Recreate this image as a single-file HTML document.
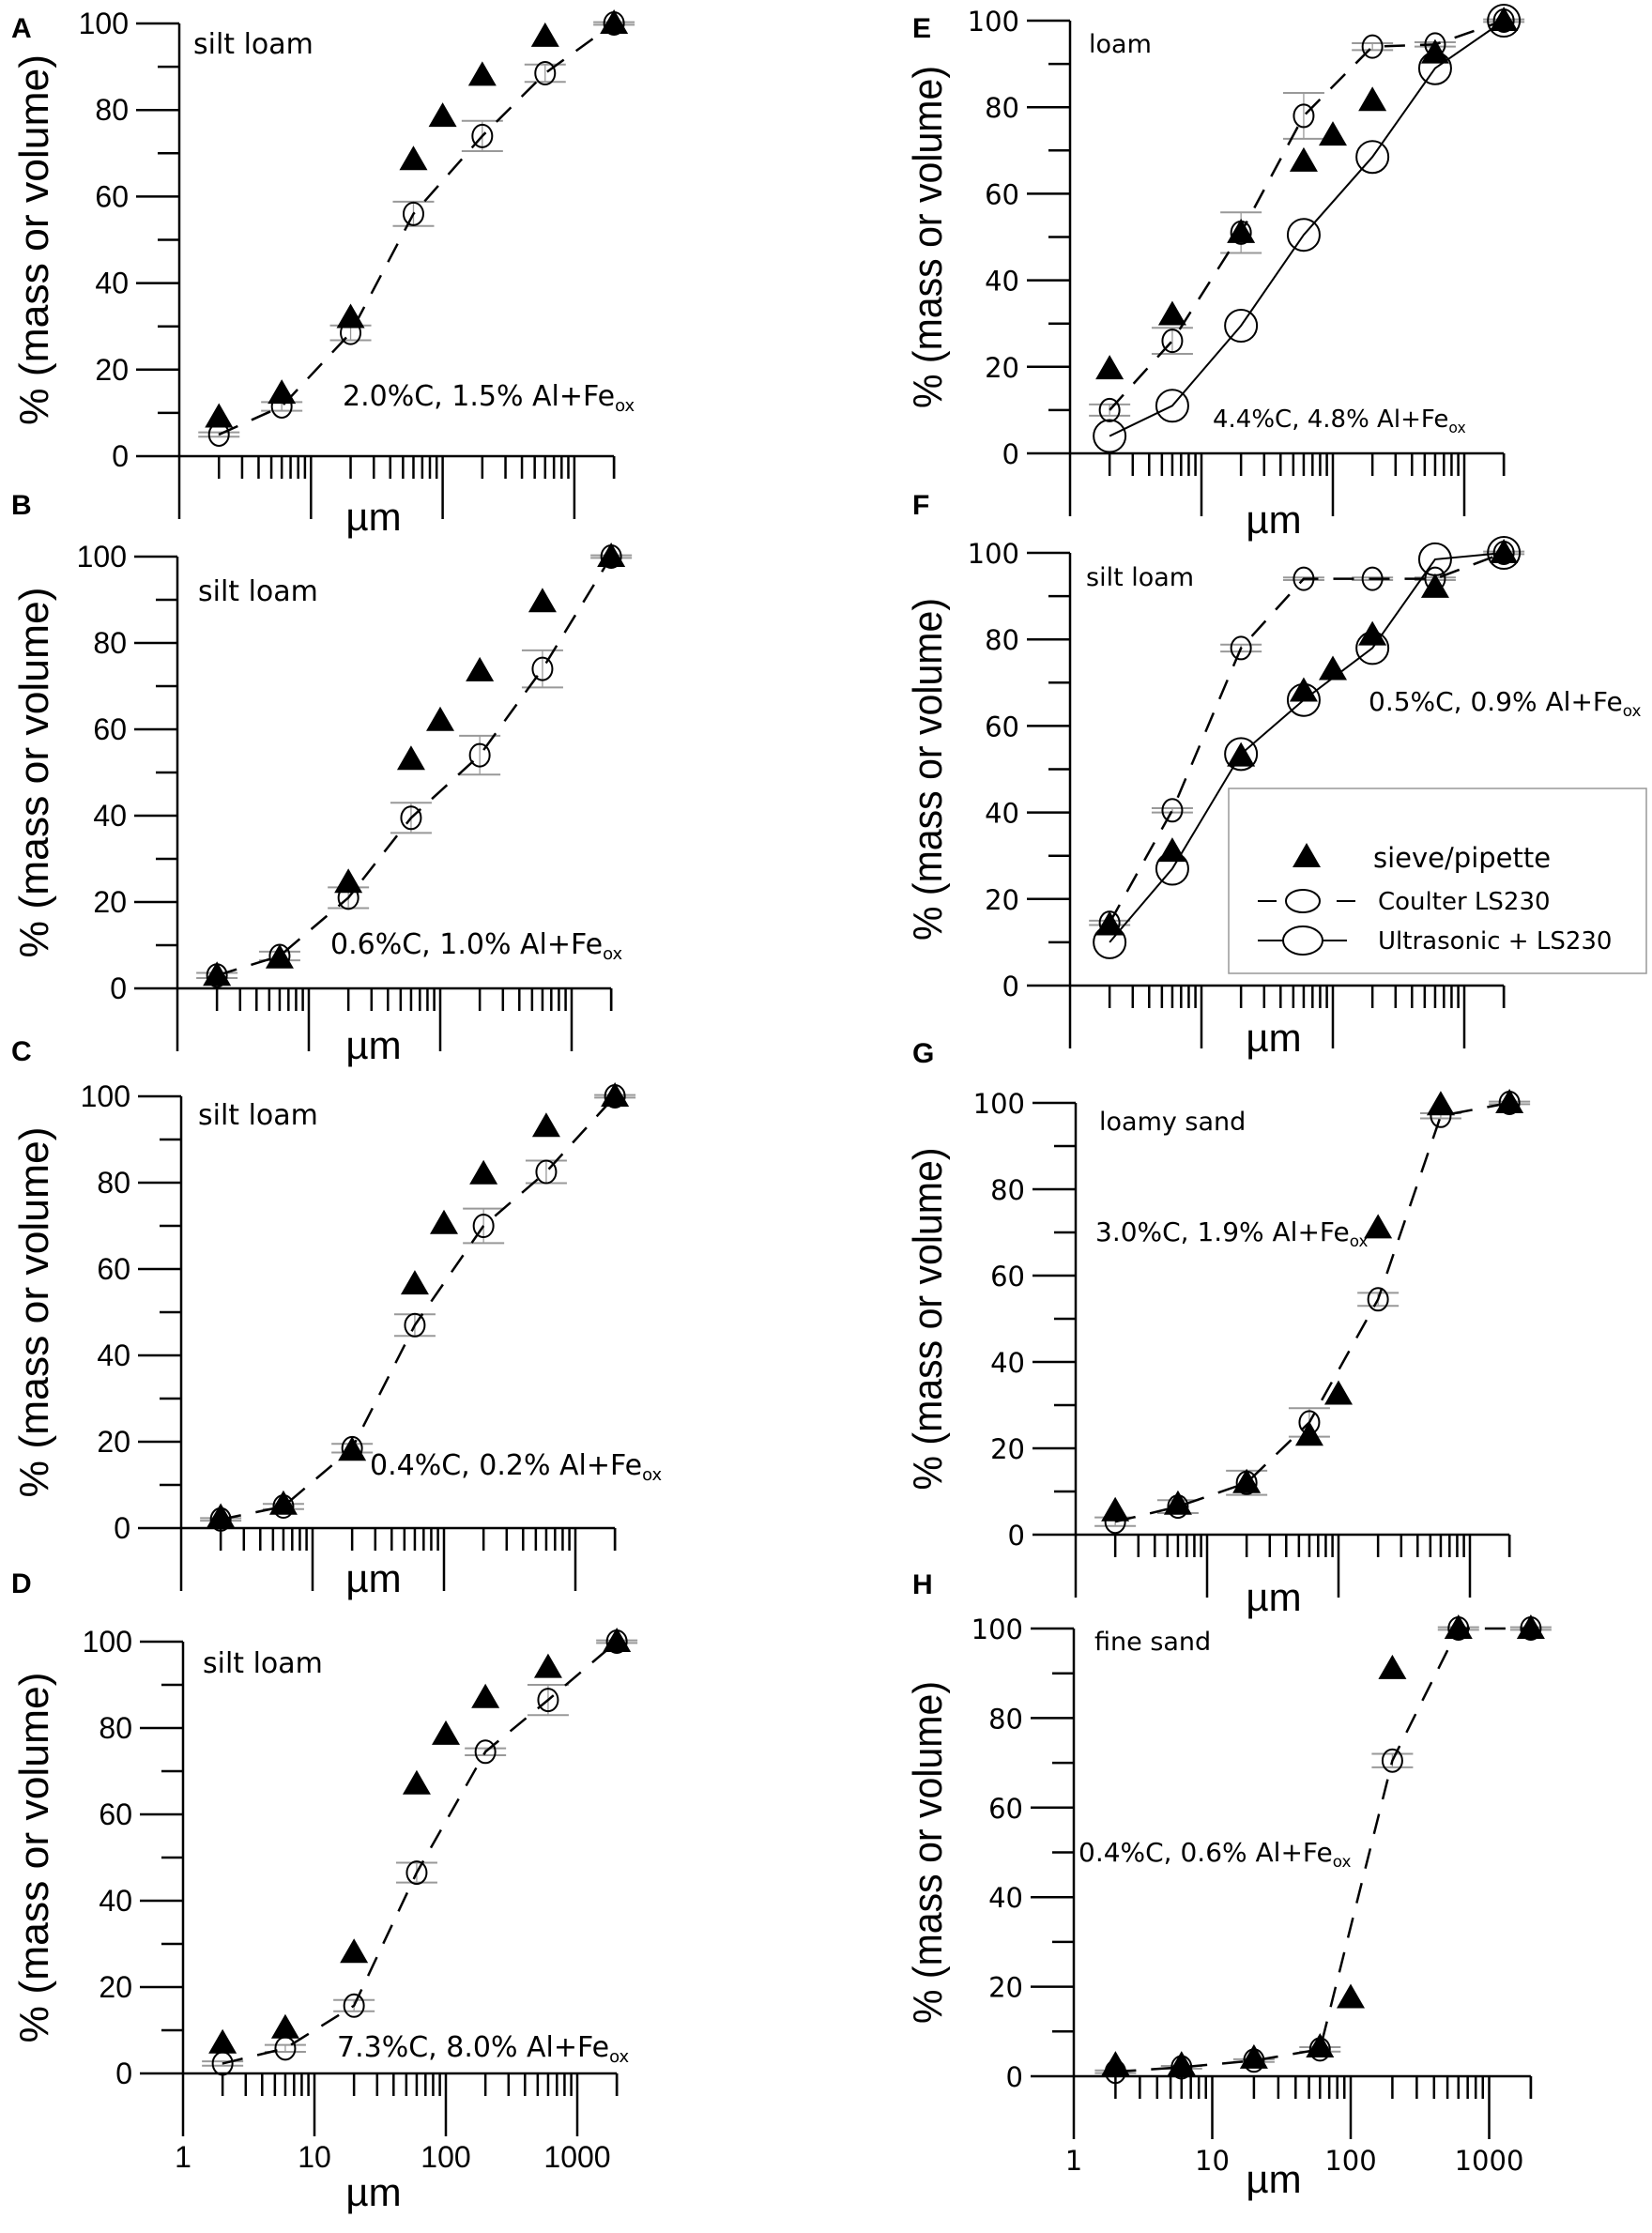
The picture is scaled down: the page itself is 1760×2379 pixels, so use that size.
<!DOCTYPE html>
<html><head><meta charset="utf-8"><style>
html,body{margin:0;padding:0;background:#fff}
svg{display:block}
.lt{font-family:"Liberation Sans",sans-serif}
.dv{font-family:"DejaVu Sans","Liberation Sans",sans-serif}
</style></head><body>
<svg id="fig" xmlns="http://www.w3.org/2000/svg" width="1760" height="2379" viewBox="0 0 1760 2379">
<rect width="1760" height="2379" fill="#fff"/>
</svg>
<script>
// Shared x categories (µm)
const sizesTri = [2, 6, 20, 60, 100, 200, 600, 2000];
const sizesCirc = [2, 6, 20, 60, 200, 600, 2000];
const yTicks = [0, 20, 40, 60, 80, 100];
const xTickLabels = ["1", "10", "100", "1000"];

// Panel A
const triA = [9, 14.5, 32, 68.5, 78.5, 88, 97, 100];
const coulA = [5, 11.5, 28.5, 56, 74, 88.5, 100];
const errA = [0.5, 1, 1.7, 2.8, 3.5, 2, 0.3];
// Panel B
const triB = [3, 7, 24.5, 53, 62, 73.5, 89.5, 100];
const coulB = [3, 7.5, 21, 39.5, 54, 74, 100];
const errB = [0.6, 1, 2.4, 3.5, 4.5, 4.3, 0.3];
// Panel C
const triC = [2.5, 5.5, 18, 56.5, 70.5, 82, 93, 100];
const coulC = [2, 5, 18.5, 47, 70, 82.5, 100];
const errC = [0.3, 0.6, 1, 2.5, 4, 2.6, 0.3];
// Panel D
const triD = [7, 10.5, 28, 67, 78.5, 87, 94, 100];
const coulD = [2.3, 5.8, 15.7, 46.5, 74.5, 86.5, 100];
const errD = [0.5, 0.8, 1.3, 2.3, 0.8, 3.5, 0.3];
// Panel E
const triE = [19.5, 32, 51, 67.5, 73.5, 81.5, 92.5, 100];
const coulE = [10, 26, 51, 78, 94, 94.5, 100];
const errE = [1.3, 3, 4.7, 5.3, 0.8, 0.5, 0.3];
const ultraE = [4, 11, 29.5, 50.5, 68.5, 89, 100];
// Panel F
const triF = [14, 31, 53, 68, 73, 81, 92, 100];
const coulF = [14.5, 40.5, 78, 94, 94, 94, 100];
const errF = [0.5, 0.5, 0.8, 0.3, 0.3, 0.3, 0.3];
const ultraF = [10, 27, 53.5, 66, 78, 98.5, 100];
// Panel G
const triG = [5.5, 7, 12, 23, 32.5, 71, 99.5, 100];
const coulG = [3, 6.5, 12, 26, 54.5, 97, 100];
const errG = [1, 1.5, 2.8, 3.3, 1.5, 0.6, 0.3];
// Panel H
const triH = [2.5, 2.5, 4, 6.5, 17.5, 91, 100, 100];
const coulH = [1, 2, 3.5, 6, 70.5, 100, 100];
const errH = [0.3, 0.3, 0.3, 0.5, 1.5, 0.3, 0.3];

const NS = "http://www.w3.org/2000/svg";
const svg = document.getElementById("fig");
function mk(tag, attrs, parent) {
  const e = document.createElementNS(NS, tag);
  for (const k in attrs) e.setAttribute(k, attrs[k]);
  (parent || svg).appendChild(e);
  return e;
}

const panels = [
  {id:"a", letter:"A", lx:12, ly:40, x0:191, dec:140.3, y100:25, y0:486, font:"lt", tex:"silt loam", tx:206, ty:57, ann:"2.0%C, 1.5% Al+Fe", ax:365, ay:432, mu:398, muy:565, tri:triA, coul:coulA, err:errA, ultra:null, labels:false, titleX:36, annSize:30, texSize:30},
  {id:"b", letter:"B", lx:12, ly:548, x0:189, dec:140, y100:593, y0:1053, font:"lt", tex:"silt loam", tx:211, ty:640, ann:"0.6%C, 1.0% Al+Fe", ax:352, ay:1016, mu:398, muy:1128, tri:triB, coul:coulB, err:errB, ultra:null, labels:false, titleX:36, annSize:30, texSize:30},
  {id:"c", letter:"C", lx:12, ly:1130, x0:193, dec:140, y100:1168, y0:1628, font:"lt", tex:"silt loam", tx:211, ty:1198, ann:"0.4%C, 0.2% Al+Fe", ax:394, ay:1571, mu:398, muy:1696, tri:triC, coul:coulC, err:errC, ultra:null, labels:false, titleX:36, annSize:30, texSize:30},
  {id:"d", letter:"D", lx:12, ly:1697, x0:195, dec:140, y100:1749, y0:2209, font:"lt", tex:"silt loam", tx:216, ty:1782, ann:"7.3%C, 8.0% Al+Fe", ax:359, ay:2191, mu:398, muy:2350, tri:triD, coul:coulD, err:errD, ultra:null, labels:true, titleX:36, annSize:30, texSize:30},
  {id:"e", letter:"E", lx:972, ly:40, x0:1140, dec:140, y100:22, y0:483, font:"dv", tex:"loam", tx:1160, ty:56, ann:"4.4%C, 4.8% Al+Fe", ax:1292, ay:455, mu:1357, muy:568, tri:triE, coul:coulE, err:errE, ultra:ultraE, labels:false, titleX:988, annSize:26, texSize:27},
  {id:"f", letter:"F", lx:972, ly:548, x0:1140, dec:140, y100:589, y0:1050, font:"dv", tex:"silt loam", tx:1157, ty:624, ann:"0.5%C, 0.9% Al+Fe", ax:1458, ay:757, mu:1357, muy:1120, tri:triF, coul:coulF, err:errF, ultra:ultraF, labels:false, titleX:988, annSize:28, texSize:27, legend:true},
  {id:"g", letter:"G", lx:972, ly:1132, x0:1146, dec:140, y100:1175, y0:1635, font:"dv", tex:"loamy sand", tx:1171, ty:1204, ann:"3.0%C, 1.9% Al+Fe", ax:1167, ay:1322, mu:1357, muy:1716, tri:triG, coul:coulG, err:errG, ultra:null, labels:false, titleX:988, annSize:28, texSize:27},
  {id:"h", letter:"H", lx:972, ly:1698, x0:1144, dec:147.5, y100:1735, y0:2212, font:"dv", tex:"fine sand", tx:1166, ty:1758, ann:"0.4%C, 0.6% Al+Fe", ax:1149, ay:1983, mu:1357, muy:2336, tri:triH, coul:coulH, err:errH, ultra:null, labels:true, titleX:988, annSize:28, texSize:27}
];

panels.forEach(p => {
  const g = mk("g", {});
  
  
  const X = v => p.x0 + Math.log10(v) * p.dec;
  const Y = v => p.y0 - v * (p.y0 - p.y100) / 100;
  const xEnd = X(2000);

  const letter = mk("text", {x:p.lx, y:p.ly, "font-family":"Liberation Sans, sans-serif", "font-weight":"bold", "font-size":30}, g);
  letter.textContent = p.letter;
  
  

  const ax = mk("g", {stroke:"#000", "stroke-width":2.5, fill:"none"}, g);
  
  
  mk("line", {x1:p.x0, y1:p.y100, x2:p.x0, y2:p.y0 + 67}, ax);
  mk("line", {x1:p.x0 - 46, y1:p.y0, x2:xEnd, y2:p.y0}, ax);
  for (let v = 10; v <= 100; v += 10) {
    const major = v % 20 === 0;
    mk("line", {x1:p.x0 - (major ? 46 : 23), y1:Y(v), x2:p.x0, y2:Y(v)}, ax);
  }
  for (let d = 1; d <= 1000; d *= 10) {
    for (let m = 1; m <= 9; m++) {
      const v = d * m;
      if (v > 2000 || v === 1) continue;
      const len = (m === 1) ? 67 : 24;
      mk("line", {x1:X(v), y1:p.y0, x2:X(v), y2:p.y0 + len}, ax);
    }
  }
  mk("line", {x1:X(2000), y1:p.y0, x2:X(2000), y2:p.y0 + 24}, ax);

  yTicks.forEach(t => {
    const tl = mk("text", {x:p.x0 - 54, y:Y(t) + 11, "text-anchor":"end", "font-size":p.font === "lt" ? 32 : 29, class:p.font}, g);
    tl.textContent = t;
    
    
  });
  if (p.labels) {
    xTickLabels.forEach((t, i) => {
      const tl = mk("text", {x:p.x0 + i * p.dec, y:p.y0 + 100, "text-anchor":"middle", "font-size":p.font === "lt" ? 32 : 29, class:p.font}, g);
      tl.textContent = t;
      
      
    });
  }
  const yt = mk("text", {x:0, y:0, "text-anchor":"middle", "font-size":44, class:"lt", transform:`translate(${p.titleX + 15},${(p.y0 + p.y100) / 2}) rotate(-90)`, textLength:p.font === "lt" ? 395 : 365, lengthAdjust:"spacingAndGlyphs"}, g);
  yt.textContent = "% (mass or volume)";
  
  
  const xt = mk("text", {x:p.mu, y:p.muy, "text-anchor":"middle", "font-size":42, class:"lt"}, g);
  xt.textContent = "µm";
  
  

  const tx = mk("text", {x:p.tx, y:p.ty, "font-size":p.texSize, class:"dv"}, g);
  tx.textContent = p.tex;
  
  
  const an = mk("text", {x:p.ax, y:p.ay, "font-size":p.annSize, class:"dv"}, g);
  an.textContent = p.ann;
  const sub = mk("tspan", {"font-size":p.annSize * 0.6, dy:6}, an);
  sub.textContent = "ox";
  
  

  const eb = mk("g", {stroke:"#999", "stroke-width":2, fill:"none"}, g);
  
  
  sizesCirc.forEach((s, i) => {
    const x = X(s), e = p.err[i], v = p.coul[i];
    mk("line", {x1:x - 22, y1:Y(v + e), x2:x + 22, y2:Y(v + e)}, eb);
    mk("line", {x1:x - 22, y1:Y(v - e), x2:x + 22, y2:Y(v - e)}, eb);
    mk("line", {x1:x, y1:Y(v + e), x2:x, y2:Y(v - e), "stroke-width":1.3}, eb);
  });

  const dl = mk("polyline", {points:sizesCirc.map((s, i) => X(s) + "," + Y(p.coul[i])).join(" "), fill:"none", stroke:"#000", "stroke-width":2.5, "stroke-dasharray":"22,16"}, g);
  
  
  sizesCirc.forEach((s, i) => {
    const c = mk("ellipse", {cx:X(s), cy:Y(p.coul[i]), rx:10.5, ry:12, fill:"none", stroke:"#000", "stroke-width":2}, g);
    
    
  });

  if (p.ultra) {
    const ul = mk("polyline", {points:sizesCirc.map((s, i) => X(s) + "," + Y(p.ultra[i])).join(" "), fill:"none", stroke:"#000", "stroke-width":2}, g);
    
    
    sizesCirc.forEach((s, i) => {
      const c = mk("circle", {cx:X(s), cy:Y(p.ultra[i]), r:17, fill:"none", stroke:"#000", "stroke-width":2}, g);
      
      
    });
  }

  sizesTri.forEach((s, i) => {
    const x = X(s), y = Y(p.tri[i]);
    const t = mk("polygon", {points:`${x - 15},${y + 11} ${x + 15},${y + 11} ${x},${y - 15}`, fill:"#000"}, g);
    
    
  });

  if (p.legend) {
    const lg = mk("g", {}, g);
    
    
    mk("rect", {x:1309, y:840, width:445, height:197, fill:"#fff", stroke:"#999", "stroke-width":1.5}, lg);
    mk("polygon", {points:"1377,924 1407,924 1392,898", fill:"#000"}, lg);
    const l1 = mk("text", {x:1463, y:924, "font-size":29, class:"dv"}, lg);
    l1.textContent = "sieve/pipette";
    
    
    mk("line", {x1:1340, y1:960, x2:1448, y2:960, stroke:"#000", "stroke-width":2, "stroke-dasharray":"20,22"}, lg);
    mk("ellipse", {cx:1388, cy:960, rx:18, ry:12, fill:"#fff", stroke:"#000", "stroke-width":2}, lg);
    const l2 = mk("text", {x:1468, y:969, "font-size":26, class:"dv"}, lg);
    l2.textContent = "Coulter LS230";
    
    
    mk("line", {x1:1340, y1:1002, x2:1435, y2:1002, stroke:"#000", "stroke-width":2}, lg);
    mk("ellipse", {cx:1388, cy:1002, rx:21, ry:15, fill:"#fff", stroke:"#000", "stroke-width":2}, lg);
    const l3 = mk("text", {x:1468, y:1011, "font-size":26, class:"dv"}, lg);
    l3.textContent = "Ultrasonic + LS230";
    
    
  }
});
</script>
</body></html>
